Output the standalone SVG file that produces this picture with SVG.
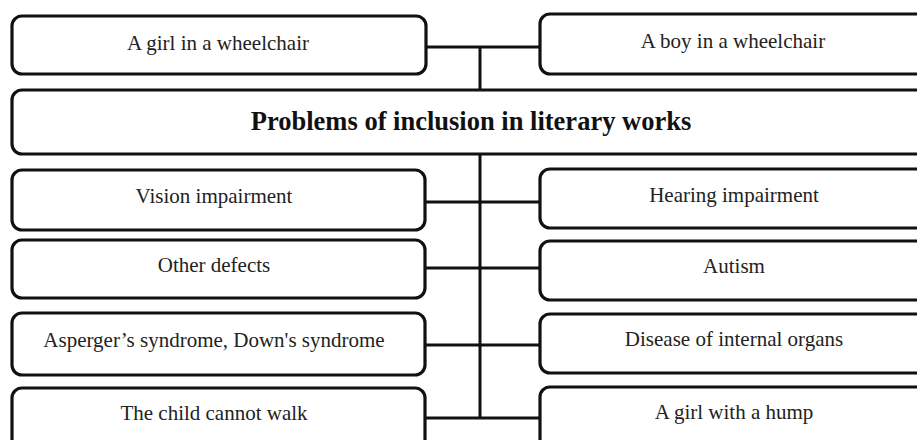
<svg xmlns="http://www.w3.org/2000/svg" width="917" height="440" viewBox="0 0 917 440">
<style>
.box{fill:#fff;stroke:#111;stroke-width:3.2}
.lbl{font-family:"Liberation Serif","Times New Roman",serif;font-size:21px;fill:#222;text-anchor:middle}
.title{font-family:"Liberation Serif","Times New Roman",serif;font-size:26.5px;font-weight:bold;fill:#111;text-anchor:middle}
.conn{stroke:#111;stroke-width:3;fill:none}
</style>
<rect width="917" height="440" fill="#fff"/>
<g id="connectors">
<path class="conn" d="M426 47H539M480 47V90"/>
<path class="conn" d="M480 154V418"/>
<path class="conn" d="M425 202H539M425 268H539M425 345H539M425 418H539"/>
</g>
<g id="n-girl-wheelchair"><rect class="box" x="12" y="16" width="414" height="58" rx="10"/><text class="lbl" x="218" y="50">A girl in a wheelchair</text></g>
<g id="n-boy-wheelchair"><rect class="box" x="540" y="14" width="390" height="60" rx="10"/><text class="lbl" x="733" y="48">A boy in a wheelchair</text></g>
<g id="n-main"><rect class="box" x="12" y="90" width="920" height="64" rx="10"/><text class="title" x="471" y="130">Problems of inclusion in literary works</text></g>
<g id="n-vision"><rect class="box" x="12" y="170" width="413" height="60" rx="10"/><text class="lbl" x="214" y="203">Vision impairment</text></g>
<g id="n-hearing"><rect class="box" x="540" y="169" width="390" height="59" rx="10"/><text class="lbl" x="734" y="202">Hearing impairment</text></g>
<g id="n-other"><rect class="box" x="12" y="240" width="413" height="58" rx="10"/><text class="lbl" x="214" y="272">Other defects</text></g>
<g id="n-autism"><rect class="box" x="540" y="241" width="390" height="59" rx="10"/><text class="lbl" x="734" y="273">Autism</text></g>
<g id="n-asperger"><rect class="box" x="12" y="313" width="413" height="62" rx="10"/><text class="lbl" x="214" y="347">Asperger’s syndrome, Down's syndrome</text></g>
<g id="n-disease"><rect class="box" x="540" y="314" width="390" height="59" rx="10"/><text class="lbl" x="734" y="346">Disease of internal organs</text></g>
<g id="n-child"><rect class="box" x="12" y="388" width="413" height="70" rx="10"/><text class="lbl" x="214" y="420">The child cannot walk</text></g>
<g id="n-hump"><rect class="box" x="540" y="387" width="390" height="70" rx="10"/><text class="lbl" x="734" y="419">A girl with a hump</text></g>
</svg>
